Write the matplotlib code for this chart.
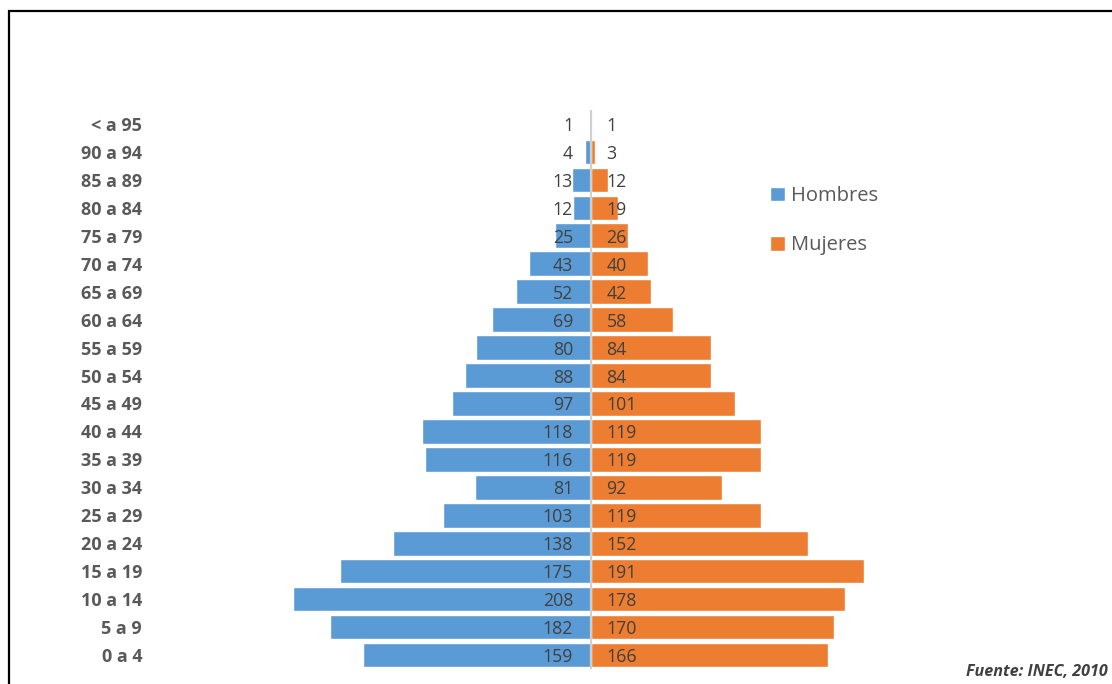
import matplotlib
matplotlib.use("Agg")
import matplotlib.pyplot as plt
from matplotlib.patches import Rectangle

plt.rcParams["font.family"] = ["Open Sans", "DejaVu Sans"]

# Age groups (bottom to top) and population counts per sex
grupos = ["0 a 4", "5 a 9", "10 a 14", "15 a 19", "20 a 24", "25 a 29",
          "30 a 34", "35 a 39", "40 a 44", "45 a 49", "50 a 54", "55 a 59",
          "60 a 64", "65 a 69", "70 a 74", "75 a 79", "80 a 84", "85 a 89",
          "90 a 94", "< a 95"]
hombres = [159, 182, 208, 175, 138, 103, 81, 116, 118, 97, 88, 80,
           69, 52, 43, 25, 12, 13, 4, 1]
mujeres = [166, 170, 178, 191, 152, 119, 92, 119, 119, 101, 84, 84,
           58, 42, 40, 26, 19, 12, 3, 1]

AZUL = "#5B9BD5"
NARANJA = "#ED7D31"
GRIS_TXT = "#595959"
GRIS_VAL = "#404040"

W, H = 1112, 684
fig = plt.figure(figsize=(W / 100, H / 100), dpi=100)

# axes placed in pixel terms: x=0 sits at the centre line
ax_l, ax_r = 290, 880
ax_top, ax_bot = 110, 669
cx, scale = 590.5, 1.43
ax = fig.add_axes([ax_l / W, 1 - ax_bot / H, (ax_r - ax_l) / W, (ax_bot - ax_top) / H])
ax.set_xlim(-(cx - ax_l) / scale, (ax_r - cx) / scale)
ax.set_ylim(-0.5, len(grupos) - 0.5)

y = list(range(len(grupos)))
b1 = ax.barh(y, [-v for v in hombres], height=0.88, color=AZUL,
             edgecolor="white", linewidth=1, label="Hombres", zorder=2)
b2 = ax.barh(y, mujeres, height=0.88, color=NARANJA,
             edgecolor="white", linewidth=1, label="Mujeres", zorder=2)
ax.axvline(0, color="#D0D0D0", lw=1.6, zorder=3)

for i, (h, m) in enumerate(zip(hombres, mujeres)):
    ax.annotate(str(h), xy=(0, i), xytext=(-12.6, 0), textcoords="offset points",
                ha="right", va="center_baseline", fontsize=12.8, color=GRIS_VAL, zorder=4)
    ax.annotate(str(m), xy=(0, i), xytext=(11.5, 0), textcoords="offset points",
                ha="left", va="center_baseline", fontsize=12.8, color=GRIS_VAL, zorder=4)

ax.set_yticks(y)
ax.set_yticklabels(grupos, fontsize=13, fontweight="bold", color=GRIS_TXT)
ax.tick_params(axis="y", length=0, pad=(ax_l - 142) * 0.72)
ax.set_xticks([])
for s in ax.spines.values():
    s.set_visible(False)

leg = fig.legend(handles=[b1, b2], labels=["Hombres", "Mujeres"],
                 loc="upper left", bbox_to_anchor=(770 / W, 1 - 186 / H),
                 frameon=False, fontsize=14.5, handlelength=0.75, handleheight=0.75,
                 handletextpad=0.3, labelspacing=1.45, borderpad=0, borderaxespad=0)
for t in leg.get_texts():
    t.set_color(GRIS_TXT)

fig.text(1108 / W, 1 - 672 / H, "Fuente: INEC, 2010", fontsize=11.6,
         fontweight="bold", fontstyle="italic", color=GRIS_VAL,
         ha="right", va="center")

# outer frame
fig.patches.append(Rectangle((9 / W, -0.1), 1.2, 1 - 11 / H + 0.1,
                             transform=fig.transFigure, fill=False,
                             edgecolor="black", linewidth=1.6))

fig.savefig("out.png", dpi=100, facecolor="white")
